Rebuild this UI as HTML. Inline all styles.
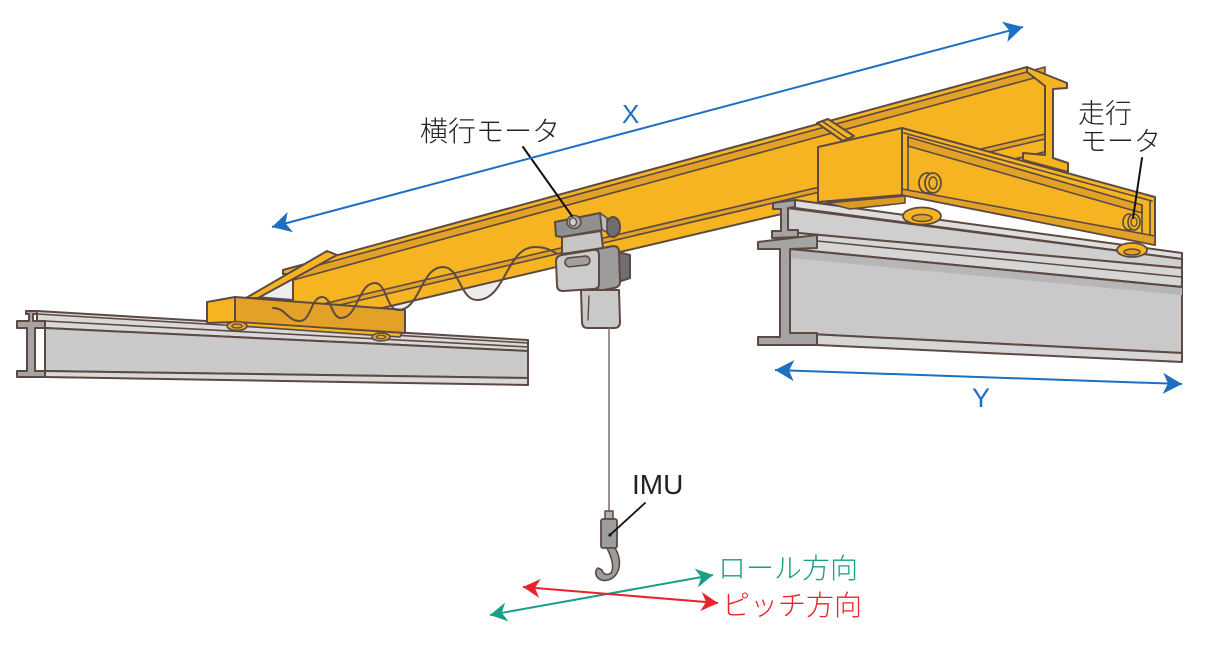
<!DOCTYPE html>
<html>
<head>
<meta charset="utf-8">
<style>
html,body{margin:0;padding:0;background:#ffffff;}
svg{display:block;}
</style>
</head>
<body>
<svg xmlns="http://www.w3.org/2000/svg" width="1208" height="661" viewBox="0 0 1208 661">
<defs>
  <marker id="mb" viewBox="-20 -12 22 24" markerWidth="22" markerHeight="24" refX="0" refY="0" orient="auto-start-reverse" markerUnits="userSpaceOnUse">
    <path d="M0,0 L-19,-10.5 L-14,0 L-19,10.5 Z" fill="#1c6fc1"/>
  </marker>
  <marker id="mt" viewBox="-20 -12 22 24" markerWidth="22" markerHeight="24" refX="0" refY="0" orient="auto-start-reverse" markerUnits="userSpaceOnUse">
    <path d="M0,0 L-17,-9.5 L-12,0 L-17,9.5 Z" fill="#17a084"/>
  </marker>
  <marker id="mr" viewBox="-20 -12 22 24" markerWidth="22" markerHeight="24" refX="0" refY="0" orient="auto-start-reverse" markerUnits="userSpaceOnUse">
    <path d="M0,0 L-17,-9.5 L-12,0 L-17,9.5 Z" fill="#e8232b"/>
  </marker>
</defs>

<g stroke="#5c4a42" stroke-width="2" stroke-linejoin="round" stroke-linecap="round">

  <!-- light gray fill under festoon cable -->
  <path d="M273,308 C286,308 287,321 300,321 C311,321 311,297 322,297 C331.5,297 331.5,318 341,318 C358,318 358,283 375,283 C386.5,283 386.5,310 398,310 C420.5,310 420.5,267 443,267 C460,267 460,300 477,300 C506,300 506,247 535,247 C545,247 550,250 556,253 L556,240 L300,290 L273,300 Z" fill="#ececec" stroke="none"/>

  <!-- LEFT RAIL -->
  <polygon points="37,311 528,340 528,351 45,328 45,321 37,321" fill="#d9d9d9"/>
  <line x1="37" y1="314" x2="528" y2="343" stroke-width="1.6"/>
  <line x1="45" y1="321" x2="528" y2="347" stroke-width="1.6"/>
  <polygon points="45,328 528,351 528,378 45,371" fill="#cacaca"/>
  <polygon points="45,371 528,378 528,385 45,377" fill="#d9d9d9"/>
  <polygon points="26,311 37,311 37,314 33,314 33,321 45,321 45,328 35,328 35,371 45,371 45,377 17,377 17,371 27,371 27,328 17,328 17,321 29,321 29,314 26,314" fill="#a4a4a4"/>

  <!-- MAIN BEAM -->
  <polygon points="283,270 1027,67 1045,80 1045,152 293,329 293,274 283,274" fill="#f6b322"/>
  <polygon points="293,272 1045,67 1045,75 293,280" fill="#e3a227" stroke-width="1.6"/>
  <polygon points="293,311 1045,134 1045,139 293,316" fill="#e3a227" stroke-width="1.6"/>
  <!-- beam end cross-section -->
  <polygon points="1027,67 1067,83 1067,88 1053,89 1053,158 1068,163 1068,172 1023,160 1023,153 1045,155 1045,86 1027,72" fill="#f6b322"/>
  <!-- bracket on top of beam -->
  <polygon points="817,123 828,119 854,136 843,141" fill="#f6b322"/>
  <line x1="822" y1="121" x2="848" y2="139" stroke-width="1.6"/>

  <!-- left gusset + brace -->
  <polygon points="255,297 293,276 293,300" fill="#ededed"/>
  <polygon points="246,298 327,251 337,255 258,298" fill="#f6b322"/>

  <!-- LEFT END TRUCK -->
  <polygon points="207,302 235,297 235,322 207,323" fill="#f6b322"/>
  <polygon points="235,297 405,310 405,333 235,322" fill="#e3a227"/>
  <polygon points="238,322 402,333 400,337 240,326" fill="#f6b322" stroke-width="1.6"/>
  <ellipse cx="237" cy="326" rx="10" ry="4.5" fill="#e3a227" stroke-width="1.6"/>
  <ellipse cx="237" cy="326" rx="5" ry="2" fill="none" stroke-width="1.2"/>
  <ellipse cx="381" cy="337" rx="9" ry="4" fill="#e3a227" stroke-width="1.6"/>
  <ellipse cx="381" cy="337" rx="4.5" ry="1.8" fill="none" stroke-width="1.2"/>

  <!-- festoon cable -->
  <path d="M273,308 C286,308 287,321 300,321 C311,321 311,297 322,297 C331.5,297 331.5,318 341,318 C358,318 358,283 375,283 C386.5,283 386.5,310 398,310 C420.5,310 420.5,267 443,267 C460,267 460,300 477,300 C506,300 506,247 535,247 C545,247 550,250 556,253" fill="none" stroke-width="2"/>

  <!-- RIGHT RAIL -->
  <polygon points="795,200 1182,253 1182,259 795,208" fill="#dedede"/>
  <polygon points="787,208 1182,259 1182,268 798,233 787,231" fill="#cfcfcf"/>
  <polygon points="798,233 1182,268 1182,287 790,249" fill="#d6d6d6"/>
  <line x1="817" y1="241" x2="1182" y2="277" stroke-width="1.6"/>
  <polygon points="790,249 1182,287 1182,353 790,333" fill="#c9c9c9"/>
  <polygon points="790,249 1182,287 1182,295 790,258" fill="#b6b6b6" stroke="none"/>
  <line x1="790" y1="249" x2="1182" y2="287" stroke-width="2"/>
  <polygon points="790,333 1182,353 1182,362 817,345 790,345" fill="#d6d6d6"/>
  <polygon points="758,242 817,235 817,248 790,249 790,333 817,333 817,345 758,345 758,337 780,337 780,249 758,249" fill="#a4a4a4"/>
  <polygon points="773,203 795,200 795,207 788,208 788,230 798,230 798,237 772,238 772,231 781,231 781,209 773,209" fill="#a4a4a4"/>

  <!-- RIGHT END TRUCK -->
  <polygon points="827,203 905,196 905,203 850,209" fill="#d99b22" stroke-width="1.6"/>
  <polygon points="818,147 902,128 902,195 818,202" fill="#f6b322"/>
  <polygon points="902,128 1155,197 1155,245 902,195" fill="#f6b322"/>
  <polygon points="908,137 1142,205 1142,213 908,146" fill="#e3a227" stroke-width="1.6"/>
  <line x1="904" y1="133" x2="1152" y2="201" stroke-width="1.6"/>
  <line x1="908" y1="136" x2="908" y2="191" stroke-width="1.6"/>
  <line x1="1142" y1="205" x2="1142" y2="234" stroke-width="1.6"/>
  <line x1="1150" y1="201" x2="1150" y2="240" stroke-width="1.6"/>
  <polygon points="902,189 1155,236 1155,245 902,195" fill="#e3a227" stroke-width="1.6"/>
  <!-- bosses -->
  <ellipse cx="927" cy="183" rx="8" ry="10" fill="#f6b322" stroke-width="1.8"/>
  <ellipse cx="933" cy="183" rx="8" ry="10" fill="#f6b322" stroke-width="1.8"/>
  <ellipse cx="933" cy="183" rx="4" ry="6" fill="none" stroke-width="1.5"/>
  <ellipse cx="1129" cy="222" rx="6" ry="8" fill="#f6b322" stroke-width="1.6"/>
  <ellipse cx="1134" cy="222" rx="6" ry="8" fill="#f6b322" stroke-width="1.6"/>
  <ellipse cx="1134" cy="222" rx="3" ry="4.5" fill="none" stroke-width="1.3"/>
  <!-- wheels -->
  <ellipse cx="922" cy="216" rx="19" ry="8.5" fill="#f6b322" stroke-width="1.8"/>
  <ellipse cx="922" cy="218" rx="10" ry="3.5" fill="#e3a227" stroke-width="1.5"/>
  <ellipse cx="1132" cy="250" rx="15" ry="7" fill="#f6b322" stroke-width="1.8"/>
  <ellipse cx="1132" cy="252" rx="8" ry="3" fill="#e3a227" stroke-width="1.5"/>

  <!-- HOIST -->
  <ellipse cx="613" cy="227" rx="7" ry="10" fill="#6f6f6f"/>
  <polygon points="555,222 600,213 602,230 562,237 556,236" fill="#8f8f8f"/>
  <polygon points="600,213 607,218 607,232 602,230" fill="#bdbdbd" stroke-width="1.6"/>
  <ellipse cx="574" cy="222" rx="7" ry="6.5" fill="#a8a8a8" stroke-width="1.6"/>
  <ellipse cx="573" cy="222" rx="3.5" ry="4" fill="#d0d0d0" stroke-width="1.3"/>
  <polygon points="562,237 601,231 603,248 562,254" fill="#c6c6c6"/>
  <polygon points="617,252 630,255 630,278 618,282" fill="#707070"/>
  <path d="M598,249 L613,246 Q619,246 619,252 L620,282 Q620,287 614,288 L598,291 Z" fill="#9c9c9c"/>
  <path d="M562,255 L593,250 Q599,249 599,255 L599,284 Q599,289 593,289 L563,291 Q557,291 557,285 L556,261 Q556,256 562,255 Z" fill="#cbcbcb"/>
  <rect x="565" y="257" width="25" height="9" rx="4.5" fill="#a0a0a0" stroke-width="1.6" transform="rotate(-6 577 262)"/>
  <path d="M581,290 L619,290 L620,322 Q620,328 614,328 L588,328 Q582,328 582,322 Z" fill="#c9c9c9"/>
  <path d="M589,296 L588,320" fill="none" stroke-width="1.4"/>
  <line x1="609" y1="328" x2="609" y2="512" stroke="#7a6e68" stroke-width="1.5"/>

  <!-- IMU + hook -->
  <rect x="605" y="511" width="8" height="8" fill="#b0b0b0" stroke-width="1.5"/>
  <rect x="601" y="519" width="16" height="29" rx="2" fill="#9d9d9d" stroke-width="1.8"/>
  <path d="M607,548 L615,548 C620,556 621,566 617,573 C613,580 604,583 598,578 C595,575 595,570 598,568 L602,570 C603,574 607,576 611,573 C614,568 613,560 607,548 Z" fill="#9d9d9d" stroke-width="1.6"/>
</g>

<!-- pointer lines -->
<g stroke="#111" stroke-width="2" stroke-linecap="round">
  <line x1="523" y1="147" x2="572" y2="216"/>
  <line x1="1142" y1="158" x2="1133" y2="218"/>
  <line x1="610" y1="535" x2="645" y2="503" stroke-width="1.8"/>
</g>
<circle cx="610" cy="535" r="1.6" fill="#111"/>

<!-- direction arrows -->
<line x1="272" y1="227" x2="1023" y2="27" stroke="#1c6fc1" stroke-width="2" marker-start="url(#mb)" marker-end="url(#mb)"/>
<line x1="775" y1="370" x2="1182" y2="384" stroke="#1c6fc1" stroke-width="2" marker-start="url(#mb)" marker-end="url(#mb)"/>
<line x1="490" y1="615" x2="713" y2="575" stroke="#17a084" stroke-width="2" marker-start="url(#mt)" marker-end="url(#mt)"/>
<line x1="523" y1="587" x2="718" y2="603" stroke="#e8232b" stroke-width="2" marker-start="url(#mr)" marker-end="url(#mr)"/>

<!-- labels -->
<g font-family="'Liberation Sans','Noto Sans CJK JP',sans-serif" font-weight="300">
  <text x="420" y="141" font-size="28" fill="#222">横行モータ</text>
  <text x="1078" y="123" font-size="27" fill="#222">走行</text>
  <text x="1080" y="151" font-size="27" fill="#222">モータ</text>
  <text x="632" y="494" font-size="28" fill="#222">IMU</text>
  <text x="622" y="123" font-size="26" fill="#1c6fc1">X</text>
  <text x="972" y="407" font-size="27" fill="#1c6fc1">Y</text>
  <text x="718" y="578" font-size="28" fill="#17a084">ロール方向</text>
  <text x="722" y="615" font-size="28" fill="#e8232b">ピッチ方向</text>
</g>
</svg>
</body>
</html>
